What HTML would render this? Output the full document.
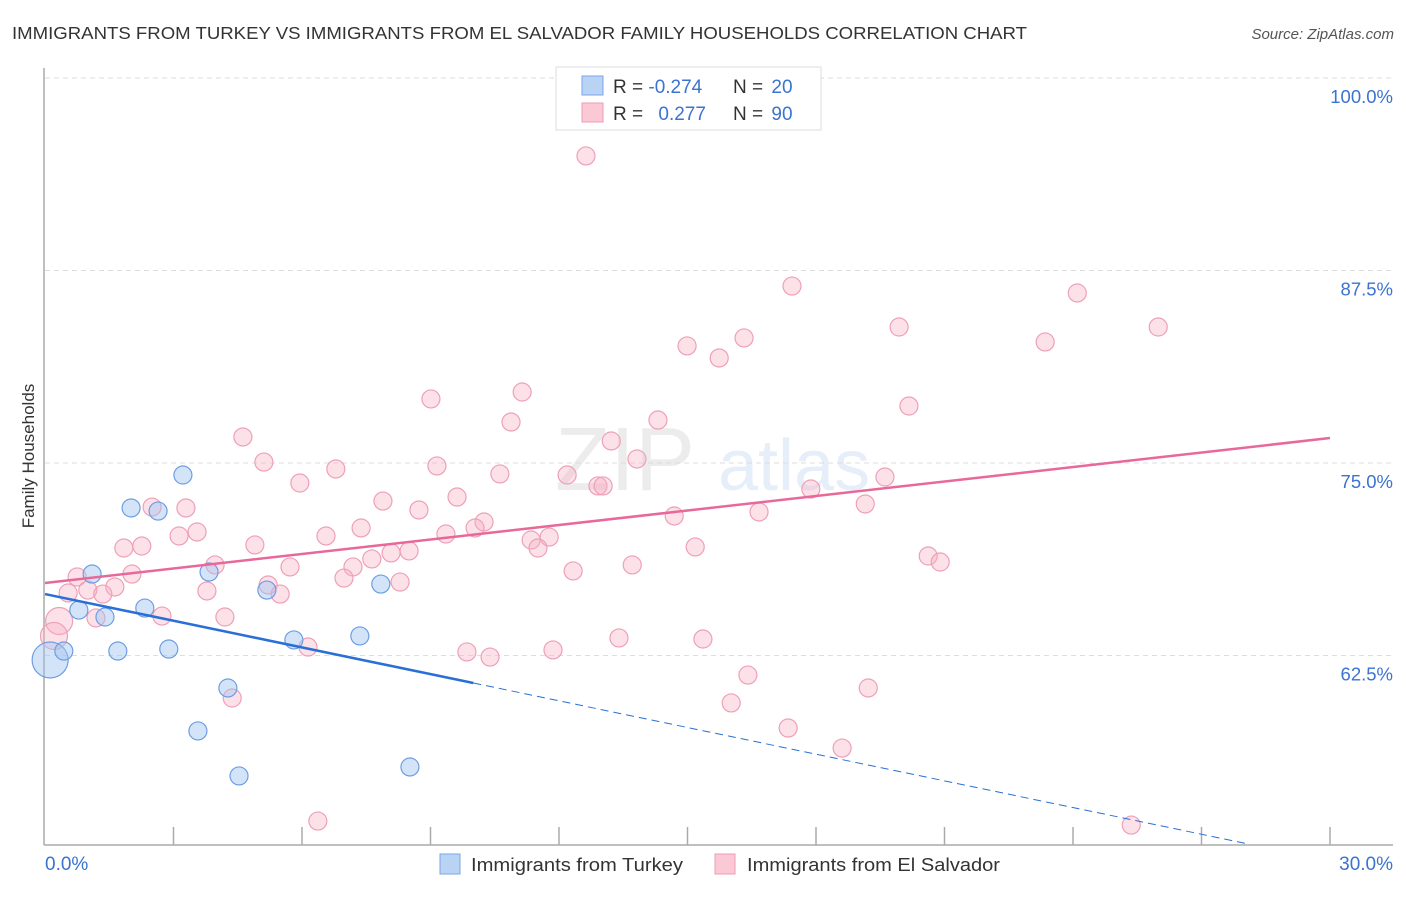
<!DOCTYPE html>
<html><head><meta charset="utf-8"><style>
body{margin:0;background:#fff;font-family:"Liberation Sans",sans-serif;}
svg text{font-family:"Liberation Sans",sans-serif;}
</style></head><body>
<svg id="chart" width="1406" height="892" viewBox="0 0 1406 892" xmlns="http://www.w3.org/2000/svg">
<text x="12" y="39" font-size="17.5" fill="#333" textLength="1015" lengthAdjust="spacingAndGlyphs">IMMIGRANTS FROM TURKEY VS IMMIGRANTS FROM EL SALVADOR FAMILY HOUSEHOLDS CORRELATION CHART</text>
<text x="1394" y="39" font-size="15" fill="#555" font-style="italic" text-anchor="end">Source: ZipAtlas.com</text>
<g opacity="0.13"><text x="555" y="490" font-size="90" font-family="Liberation Serif" fill="#777">ZIP</text><text x="718" y="490" font-size="72" fill="#4a7fd4">atlas</text></g>
<g id="grid"></g>
<g id="axes"></g>
<g id="marks"></g>
<g id="trends"></g>
<text transform="translate(34,456) rotate(-90)" font-size="17" fill="#333" text-anchor="middle">Family Households</text>
<g>
<rect x="556" y="67" width="265" height="63" fill="#fff" stroke="#ddd"/>
<rect x="582" y="76" width="21" height="19" fill="#b9d3f5" stroke="#7aa5e6"/>
<rect x="582" y="103" width="21" height="19" fill="#fbc8d6" stroke="#ee9db6"/>
<text x="613" y="93" font-size="19" fill="#333">R = <tspan fill="#3a73d0">-0.274</tspan></text>
<text x="733" y="93" font-size="19" fill="#333">N = <tspan fill="#3a73d0" dx="3">20</tspan></text>
<text x="613" y="120" font-size="19" fill="#333">R = <tspan fill="#3a73d0" dx="10">0.277</tspan></text>
<text x="733" y="120" font-size="19" fill="#333">N = <tspan fill="#3a73d0" dx="3">90</tspan></text>
</g>
<g>
<rect x="440" y="854" width="20" height="20" fill="#b9d3f5" stroke="#7aa5e6"/>
<text x="471" y="871" font-size="18" fill="#333" textLength="212" lengthAdjust="spacingAndGlyphs">Immigrants from Turkey</text>
<rect x="715" y="854" width="20" height="20" fill="#fbc8d6" stroke="#ee9db6"/>
<text x="747" y="871" font-size="18" fill="#333" textLength="253" lengthAdjust="spacingAndGlyphs">Immigrants from El Salvador</text>
</g>
</svg>
<script>
const yTicks=[100,87.5,75,62.5];
const xTickLabels=["0.0%","30.0%"];
const blueX=[0.12,0.44,0.79,1.10,1.40,1.70,2.01,2.33,2.64,2.89,3.22,3.57,3.83,4.27,4.53,5.18,5.81,7.35,7.84,8.52];
const blueY=[62.21,62.79,65.45,67.79,65.0,62.79,72.08,65.58,71.88,62.92,74.22,57.60,67.92,60.39,54.68,66.75,63.51,63.77,67.14,55.26];
const blueW=[2,1,1,1,1,1,1,1,1,1,1,1,1,1,1,1,1,1,1,1];
const pinkX=[12.63,17.44,24.10,25.99,19.94,16.32,23.35,14.99,15.74,11.14,9.01,20.17,10.88,14.31,4.62,13.22,5.11,13.82,9.15,6.79,10.62,19.61,12.19,5.95,12.91,13.03,9.62,7.89,17.88,2.50,3.29,8.73,19.15,16.67,14.69,10.25,10.04,7.38,3.55,3.13,9.36,6.56,11.77,11.35,11.51,1.84,2.26,15.18,4.90,8.50,8.08,20.62,20.90,7.63,3.97,7.19,5.72,13.71,12.33,2.03,0.75,6.98,8.29,5.21,1.63,1.00,0.54,3.78,5.49,1.35,0.33,1.19,2.73,4.20,0.21,13.40,15.36,6.14,9.85,10.39,11.86,16.41,19.22,4.37,16.02,17.35,18.61,6.37,25.36];
const pinkY=[94.94,86.49,86.04,83.83,83.83,83.12,82.86,82.60,81.82,79.61,79.16,78.70,77.66,77.79,76.69,76.43,75.06,75.26,74.81,74.61,74.29,74.09,74.22,73.70,73.51,73.51,72.79,72.53,73.31,72.14,72.08,71.95,72.34,71.82,71.56,71.17,70.78,70.78,70.52,70.26,70.39,70.26,70.19,70.0,69.48,69.48,69.61,69.55,69.68,69.29,69.16,68.96,68.57,68.77,68.38,68.25,68.25,68.38,67.99,67.79,67.60,67.53,67.27,67.08,66.95,66.75,66.56,66.69,66.49,66.49,64.74,64.94,65.06,65.00,63.77,63.64,63.57,63.05,62.73,62.40,62.86,61.23,60.39,59.74,59.42,57.79,56.49,51.75,51.49];
const pinkTrend=[67.21,76.62];
const blueTrend=[66.49,49.16];
const blueSolidEnd=10;
const NS="http://www.w3.org/2000/svg";
const X0=45,X1=1330,Y100=78,PXPER=15.4;
function sx(v){return X0+v/30*(X1-X0);}
function sy(v){return Y100+(100-v)*PXPER;}
function mk(tag,attrs,parent){const e=document.createElementNS(NS,tag);for(const k in attrs)e.setAttribute(k,attrs[k]);parent.appendChild(e);return e;}
const grid=document.getElementById('grid'),axes=document.getElementById('axes'),marks=document.getElementById('marks'),trends=document.getElementById('trends');
yTicks.forEach(t=>{
 const l=mk('line',{x1:X0,x2:1393,y1:sy(t),y2:sy(t),stroke:'#ddd','stroke-dasharray':'5,4'},grid);
 
 
 const tx=mk('text',{x:1393,y:sy(t)+25,'font-size':18.5,fill:'#3a73d0','text-anchor':'end'},axes);
 tx.textContent=t.toFixed(1)+'%';
 
 
});
mk('line',{x1:X0-1,x2:X0-1,y1:68,y2:845,stroke:'#aaa','stroke-width':1.5},axes);
mk('line',{x1:X0-1,x2:1393,y1:845,y2:845,stroke:'#aaa','stroke-width':1.5},axes);
for(let i=1;i<=10;i++){const x=sx(i*3);const t=mk('line',{x1:x,x2:x,y1:827,y2:845,stroke:'#aaa','stroke-width':1.5},axes);
 
 }
const xl0=mk('text',{x:X0,y:870,'font-size':19,fill:'#3a73d0'},axes);xl0.textContent=xTickLabels[0];


const xl1=mk('text',{x:1393,y:870,'font-size':19,fill:'#3a73d0','text-anchor':'end'},axes);xl1.textContent=xTickLabels[1];


pinkX.forEach((v,i)=>{const big=(i===70||i===74);
 const c=mk('circle',{cx:sx(v),cy:sy(pinkY[i]),r:big?13.5:9,fill:'rgba(248,176,198,0.38)',stroke:'#eea0b8','stroke-width':1.2},marks);
 
 });
blueX.forEach((v,i)=>{
 const c=mk('circle',{cx:sx(v),cy:sy(blueY[i]),r:blueW[i]>1?18:9,fill:'rgba(160,195,240,0.45)',stroke:'#6e9ee2','stroke-width':1.2},marks);
 
 });
const pl=mk('line',{x1:sx(0),y1:sy(pinkTrend[0]),x2:sx(30),y2:sy(pinkTrend[1]),stroke:'#e8689a','stroke-width':2.5},trends);


const bAt=x=>blueTrend[0]+(blueTrend[1]-blueTrend[0])*x/30;
const bl=mk('line',{x1:sx(0),y1:sy(bAt(0)),x2:sx(blueSolidEnd),y2:sy(bAt(blueSolidEnd)),stroke:'#2a6fd6','stroke-width':2.5},trends);


const bd=mk('line',{x1:sx(blueSolidEnd),y1:sy(bAt(blueSolidEnd)),x2:sx(28.1),y2:sy(bAt(28.1)),stroke:'#2a6fd6','stroke-width':1,'stroke-dasharray':'8,5'},trends);


</script>
</body></html>
